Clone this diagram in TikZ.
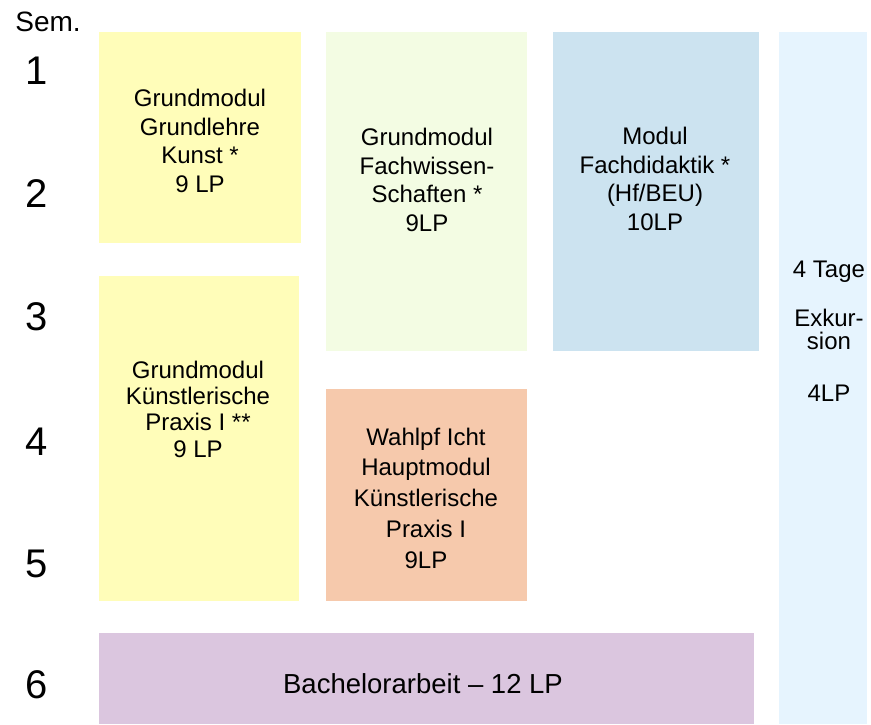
\documentclass[tikz,border=0pt]{standalone}
\usepackage{fontspec}
\setmainfont{Liberation Sans}

\definecolor{grundgelb}{RGB}{255,253,185}
\definecolor{fachgruen}{RGB}{243,252,227}
\definecolor{didaktikblau}{RGB}{204,227,240}
\definecolor{exkursionblau}{RGB}{230,244,254}
\definecolor{wahlorange}{RGB}{246,201,172}
\definecolor{bachelorlila}{RGB}{219,198,223}

\begin{document}
\begin{tikzpicture}[x=1pt,y=-1pt,
		modtext/.style={align=center,inner sep=0pt},
		semnum/.style={inner sep=0pt,font=\fontsize{40}{48}\selectfont}
	]

	\useasboundingbox (0,0) rectangle (871,724);

	\fill[grundgelb] (99,32) rectangle (301,243);
	\fill[fachgruen] (326,32) rectangle (527,351);
	\fill[didaktikblau] (553,32) rectangle (759,351);
	\fill[exkursionblau] (779,32) rectangle (867,724);
	\fill[grundgelb] (99,276) rectangle (299,601);
	\fill[wahlorange] (326,389) rectangle (527,601);
	\fill[bachelorlila] (99,633) rectangle (754,724);

	\node[inner sep=0pt,font=\fontsize{28}{34}\selectfont] (sem) at (48,22) {Sem.};

	\foreach \s/\y in {1/71,2/194,3/317,4/442,5/564,6/685} {
			\node[semnum] (s\s) at (37,\y) {\s};
		}

	\node[modtext,font=\fontsize{24}{28.8}\selectfont] (gk) at (200,141) {Grundmodul\\Grundlehre\\Kunst *\\9 LP};
	\node[modtext,font=\fontsize{24}{28.6}\selectfont] (gf) at (427,180) {Grundmodul\\Fachwissen-\\Schaften *\\9LP};
	\node[modtext,font=\fontsize{24}{28.4}\selectfont] (fd) at (655,179) {Modul\\Fachdidaktik *\\(Hf/BEU)\\10LP};
	\node[modtext,font=\fontsize{24}{23}\selectfont] (ex) at (829,331) {4 Tage\\[26.3pt]Exkur-\\sion\\[29pt]4LP};

	\node[modtext,font=\fontsize{24}{26.3}\selectfont] (kp) at (198,409) {Grundmodul\\Künstlerische\\Praxis I **\\9 LP};
	\node[modtext,font=\fontsize{24}{30.75}\selectfont] (hm) at (426,498) {Wahlpf Icht\\Hauptmodul\\Künstlerische\\Praxis I\\9LP};

	\node[modtext,font=\fontsize{27.5}{33}\selectfont] (ba) at (423,683.5) {Bachelorarbeit – 12 LP};

\end{tikzpicture}
\end{document}
